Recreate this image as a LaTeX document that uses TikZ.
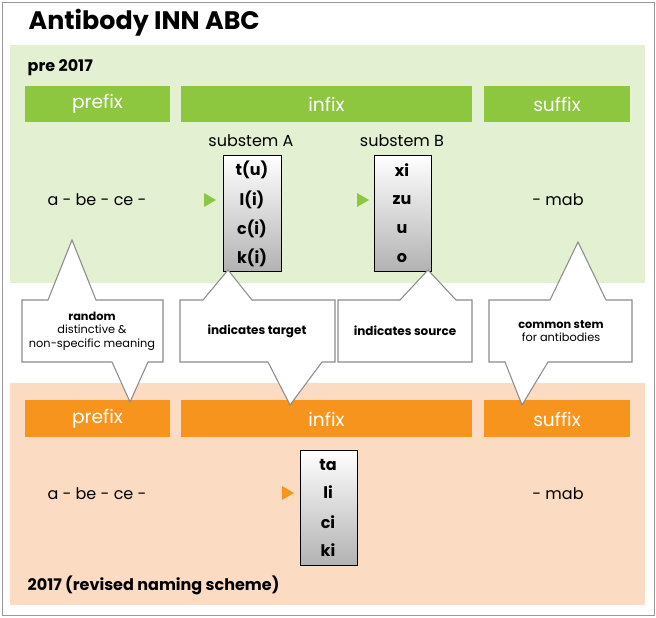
\documentclass[tikz,border=0pt]{standalone}
\usepackage{fontspec}
\setmainfont{Poppins}
\begin{document}
\begin{tikzpicture}[x=0.75pt,y=-0.75pt,
    bar/.style={fill=#1,inner sep=0pt,text=white,font=\fontsize{14}{16}\selectfont},
    stembox/.style={draw=black,top color=white,bottom color=black!30,line width=0.6pt},
    callout/.style={fill=white,draw=black!45,line width=0.8pt},
    tri/.style={fill=#1,draw=none}]
\definecolor{grn}{HTML}{8DC63F}
\definecolor{grnbg}{HTML}{E3F0D2}
\definecolor{org}{HTML}{F7941D}
\definecolor{orgbg}{HTML}{FBDCC3}
\useasboundingbox (0,0) rectangle (656,617);
\draw[black!40] (2,2) rectangle (654,615);
\node[anchor=west,font=\bfseries\fontsize{19}{22}\selectfont] (title) at (24,23) {Antibody INN ABC};

% pre 2017
\fill[grnbg] (10,45) rectangle (645,283);
\node[anchor=west,font=\bfseries\fontsize{12}{14}\selectfont] (pre) at (23,68) {pre 2017};
\foreach \a/\b/\t [count=\i] in {25/170/prefix,181/472/infix,484/630/suffix}{
  \fill[grn] (\a,86) rectangle (\b,122);
  \node[text=white,font=\fontsize{14}{16}\selectfont] (gb\i) at ({(\a+\b)/2},104) {\t};
}
\node[font=\fontsize{12}{14}\selectfont] (subA) at (251,141) {substem A};
\node[font=\fontsize{12}{14}\selectfont] (subB) at (402,141) {substem B};
\draw[stembox] (223,155) rectangle (281,271);
\draw[stembox] (374,155) rectangle (431,271);
\foreach \t/\y in {t(u)/170,l(i)/200,c(i)/229,k(i)/258}
  \node[font=\bfseries\fontsize{12}{14}\selectfont] at (252,\y) {\t};
\foreach \t/\y in {xi/170,zu/200,u/229,o/258}
  \node[font=\bfseries\fontsize{12}{14}\selectfont] at (402,\y) {\t};
\fill[grn] (204,193) -- (216,200) -- (204,207) -- cycle;
\fill[grn] (357,193) -- (369,200) -- (357,207) -- cycle;
\node[font=\fontsize{12}{14}\selectfont] (preA) at (97,200) {a - be - ce -};
\node[font=\fontsize{12}{14}\selectfont] (preS) at (558,200) {- mab};

% 2017
\fill[orgbg] (10,383) rectangle (645,605);
\foreach \a/\b/\t [count=\i] in {25/170/prefix,181/472/infix,484/630/suffix}{
  \fill[org] (\a,400) rectangle (\b,437);
  \node[text=white,font=\fontsize{14}{16}\selectfont] (ob\i) at ({(\a+\b)/2},419) {\t};
}
\draw[stembox] (300,450) rectangle (357,565);
\foreach \t/\y in {ta/465,li/492,ci/522,ki/550}
  \node[font=\bfseries\fontsize{12}{14}\selectfont] at (328,\y) {\t};
\fill[org] (282,486) -- (294,493) -- (282,500) -- cycle;
\node[font=\fontsize{12}{14}\selectfont] (newA) at (97,494) {a - be - ce -};
\node[font=\fontsize{12}{14}\selectfont] (newS) at (558,494) {- mab};
\node[anchor=west,font=\bfseries\fontsize{12}{14}\selectfont] (new) at (23,585) {2017 (revised naming scheme)};

% callouts
\draw[callout] (22,300) -- (48,300) -- (72,240) -- (96,300) -- (163,300) -- (163,362)
  -- (148,362) -- (130,402) -- (112,362) -- (22,362) -- cycle;
\draw[callout] (180,300) -- (203,300) -- (228,270) -- (252,300) -- (335,300) -- (335,362)
  -- (322,362) -- (290,405) -- (268,362) -- (180,362) -- cycle;
\draw[callout] (338,300) -- (400,300) -- (428,270) -- (456,300) -- (472,300) -- (472,362)
  -- (338,362) -- cycle;
\draw[callout] (489,300) -- (550,300) -- (578,242) -- (606,300) -- (632,300) -- (632,362)
  -- (548,362) -- (522,405) -- (505,362) -- (489,362) -- cycle;
\node[align=center,font=\fontsize{8.5}{10}\selectfont] (c1) at (92,331)
  {\textbf{random}\\distinctive \&\\non-specific meaning};
\node[font=\bfseries\fontsize{9}{11}\selectfont] (c2) at (257,331) {indicates target};
\node[font=\bfseries\fontsize{9}{11}\selectfont] (c3) at (405,331) {indicates source};
\node[align=center,font=\fontsize{8.5}{10}\selectfont] (c4) at (561,331)
  {\textbf{common stem}\\for antibodies};
\end{tikzpicture}
\end{document}
